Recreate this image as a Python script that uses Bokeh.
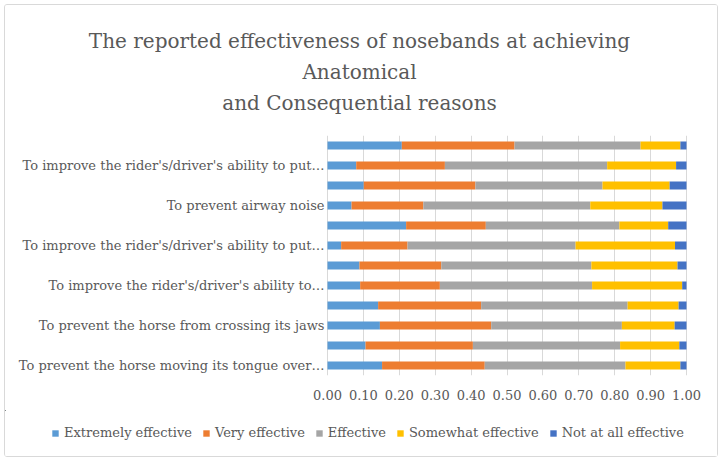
from bokeh.plotting import figure
from bokeh.layouts import column
from bokeh.models import FixedTicker, Legend, LegendItem, ColumnDataSource, NumeralTickFormatter, Label
from bokeh.core.properties import value
from bokeh.embed import file_html
from bokeh.resources import INLINE

# categories from bottom (y=1) to top (y=12); empty = hidden label
categories = [
    "To prevent the horse moving its tongue over…",
    "",
    "To prevent the horse from crossing its jaws",
    "",
    "To improve the rider's/driver's ability to…",
    "",
    "To improve the rider's/driver's ability to put…",
    "",
    "To prevent airway noise",
    "",
    "To improve the rider's/driver's ability to put…",
    "",
]
series = ["Extremely effective", "Very effective", "Effective", "Somewhat effective", "Not at all effective"]
extremely = [0.152, 0.106, 0.146, 0.141, 0.091, 0.089, 0.038, 0.219, 0.067, 0.101, 0.080, 0.207]
very = [0.286, 0.299, 0.310, 0.287, 0.222, 0.228, 0.185, 0.222, 0.200, 0.311, 0.247, 0.314]
effective = [0.392, 0.410, 0.364, 0.408, 0.424, 0.418, 0.468, 0.372, 0.465, 0.354, 0.452, 0.351]
somewhat = [0.153, 0.165, 0.147, 0.142, 0.251, 0.240, 0.277, 0.136, 0.201, 0.187, 0.192, 0.111]
not_at_all = [0.017, 0.020, 0.033, 0.022, 0.012, 0.025, 0.032, 0.051, 0.067, 0.047, 0.029, 0.017]
x_ticks = [0.0, 0.1, 0.2, 0.3, 0.4, 0.5, 0.6, 0.7, 0.8, 0.9, 1.0]
title_lines = ["The reported effectiveness of nosebands at achieving",
               "Anatomical",
               "and Consequential reasons"]

colors = ["#5B9BD5", "#ED7D31", "#A5A5A5", "#FFC000", "#4472C4"]
FONT = "DejaVu Serif"
GREY = "#595959"
W = 712                      # inner width of the chart box
PLOT_LEFT, PLOT_W = 322, 359  # pixel position/width of the 0..1 value scale inside the box
px = 1.0 / PLOT_W

ypos = list(range(1, len(categories) + 1))
src = ColumnDataSource(dict(
    y=ypos, label=categories, zero=[0.0] * len(categories),
    **{series[0]: extremely, series[1]: very, series[2]: effective,
       series[3]: somewhat, series[4]: not_at_all}))


def bare(fig):
    fig.outline_line_color = None
    fig.grid.visible = False
    fig.axis.visible = False
    fig.min_border = 0
    return fig


# ---- title strip
tf = bare(figure(frame_width=W, frame_height=125, output_backend="svg", toolbar_location=None,
                 x_range=(0, 1), y_range=(0, 1)))
for i, line in enumerate(title_lines):
    tf.add_layout(Label(x=W / 2 - 2, y=90 - 31 * i, x_units="screen", y_units="screen",
                        text=line, text_align="center", text_baseline="alphabetic",
                        text_font=FONT, text_font_size="20px", text_color=GREY))

# ---- main chart (frame spans the whole width; value scale 0..1 sits at the right)
p = figure(frame_width=W, frame_height=240, output_backend="svg", toolbar_location=None,
           x_range=(-PLOT_LEFT * px, 1 + (W - PLOT_LEFT - PLOT_W) * px),
           y_range=(0.5, len(categories) + 0.5), y_axis_type=None,
           min_border_top=5, min_border_right=0, min_border_left=0, min_border_bottom=35)
p.hbar_stack(series, y="y", height=0.4, color=colors, source=src, line_width=0)

# category labels, right-aligned at the value axis
p.text(x="zero", y="y", text="label", source=src, x_offset=-3,
       text_align="right", text_baseline="middle",
       text_font=value(FONT), text_font_size=value("13px"), text_color=GREY)

p.xaxis.ticker = FixedTicker(ticks=x_ticks)
p.xaxis.formatter = NumeralTickFormatter(format="0.00")
p.xaxis.axis_line_color = None
p.xaxis.major_tick_line_color = None
p.xaxis.major_tick_out = 0
p.xaxis.minor_tick_line_color = None
p.xaxis.major_label_text_font = FONT
p.xaxis.major_label_text_font_size = "13px"
p.xaxis.major_label_text_color = GREY
p.xaxis.major_label_standoff = 14

p.xgrid.ticker = FixedTicker(ticks=x_ticks)
p.xgrid.grid_line_color = "#D9D9D9"
p.ygrid.grid_line_color = None
p.outline_line_color = None

# ---- legend strip (swatch renderers share the data but lie well outside this strip's view)
lf = bare(figure(frame_width=W, frame_height=46, output_backend="svg", toolbar_location=None,
                 x_range=(50, 51), y_range=(-60, -50)))
swatches = lf.hbar_stack(series, y="y", height=0.4, color=colors, source=src, line_width=0)
legend = Legend(items=[LegendItem(label=s, renderers=[r]) for s, r in zip(series, swatches)],
                orientation="horizontal", location=(46, 16),
                label_text_font=FONT, label_text_font_size="13px", label_text_color=GREY,
                glyph_width=8, glyph_height=8, spacing=10, label_standoff=5,
                border_line_color=None, background_fill_alpha=0, padding=0, margin=0)
lf.add_layout(legend, "center")

layout = column(tf, p, lf, spacing=0)
layout.styles = {"border": "1px solid #D9D9D9", "border-radius": "3px",
                 "margin-left": "4px", "margin-top": "4px"}

open("out.html", "w").write(file_html(layout, INLINE))
